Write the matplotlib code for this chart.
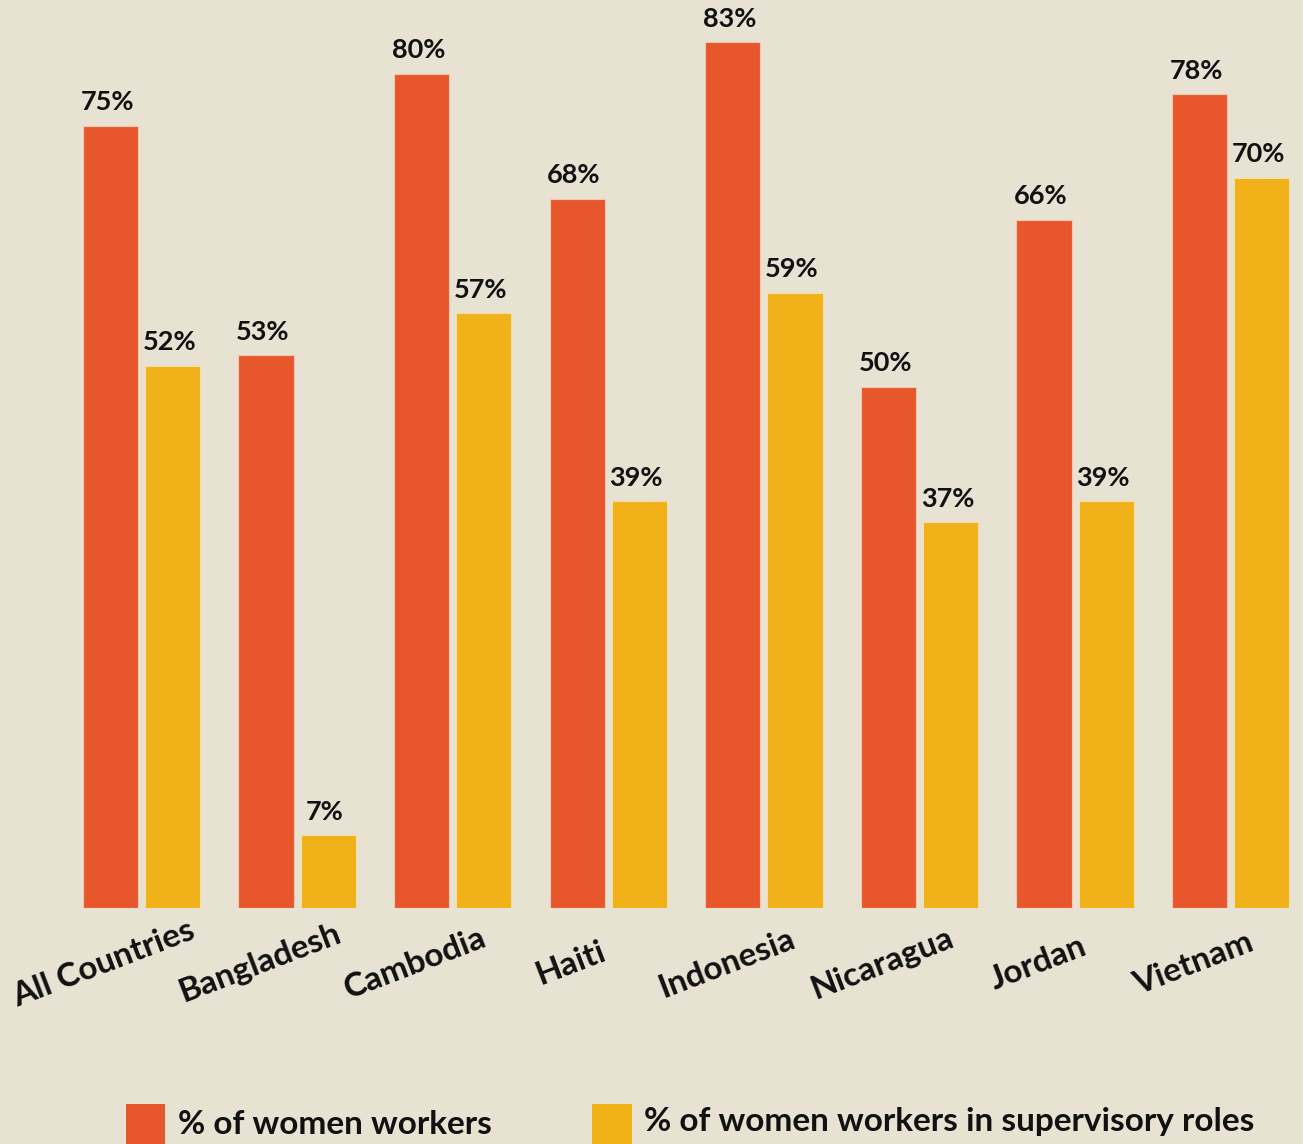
import matplotlib
matplotlib.use("Agg")
import matplotlib.pyplot as plt
from matplotlib.patches import Rectangle
import numpy as np

categories = ["All Countries", "Bangladesh", "Cambodia", "Haiti", "Indonesia",
              "Nicaragua", "Jordan", "Vietnam"]
women_workers = [75, 53, 80, 68, 83, 50, 66, 78]
women_supervisors = [52, 7, 57, 39, 59, 37, 39, 70]
series_names = ["% of women workers", "% of women workers in supervisory roles"]

BG = "#E8E2D2"
ORANGE = "#E8572C"
YELLOW = "#F0B119"
W, H = 1303, 1144

plt.rcParams["font.family"] = ["Lato", "DejaVu Sans"]
fig = plt.figure(figsize=(W / 100, H / 100), dpi=100, facecolor=BG)

base_px = 908
px_per_pct = 10.43
ymax = 85
ax_h = ymax * px_per_pct
ax = fig.add_axes([0, (H - base_px) / H, 1, ax_h / H])
ax.set_facecolor(BG)

step = 155.6
g0 = 141.5
ax.set_xlim(-g0 / step, (W - g0) / step)
ax.set_ylim(0, ymax)

x = np.arange(len(categories))
off = 0.2
bw = 0.355
b1 = ax.bar(x - off, women_workers, bw, color=ORANGE, edgecolor="#F2C9B0", linewidth=0.8)
b2 = ax.bar(x + off, women_supervisors, bw, color=YELLOW, edgecolor="#F6DFA0", linewidth=0.8)

for bars, vals in ((b1, women_workers), (b2, women_supervisors)):
    for r, v in zip(bars, vals):
        ax.text(r.get_x() + r.get_width() / 2 - 0.02, v + 1.1, f"{v}%",
                ha="center", va="bottom", fontsize=19.5, fontweight="bold",
                color="#111111", clip_on=False)

for xi, c in zip(x, categories):
    ax.text(xi - 0.24, -5.3, c, rotation=21, rotation_mode="anchor",
            ha="center", va="center", fontsize=24, fontweight="bold",
            color="#111111", clip_on=False)

for s in ax.spines.values():
    s.set_visible(False)
ax.set_xticks([])
ax.set_yticks([])

# legend
def fx(px):
    return px / W

def fy(py):
    return 1 - py / H

fig.add_artist(Rectangle((fx(126), fy(1144)), fx(165) - fx(126), (1144 - 1104) / H,
                         transform=fig.transFigure, color=ORANGE, lw=0))
fig.add_artist(Rectangle((fx(592), fy(1144)), fx(632) - fx(592), (1144 - 1104) / H,
                         transform=fig.transFigure, color=YELLOW, lw=0))
fig.text(fx(178), fy(1124), series_names[0], ha="left", va="center",
         fontsize=24, fontweight="bold", color="#111111")
fig.text(fx(644), fy(1121), series_names[1], ha="left", va="center",
         fontsize=24, fontweight="bold", color="#111111")

fig.savefig("out.png", dpi=100, facecolor=BG)
